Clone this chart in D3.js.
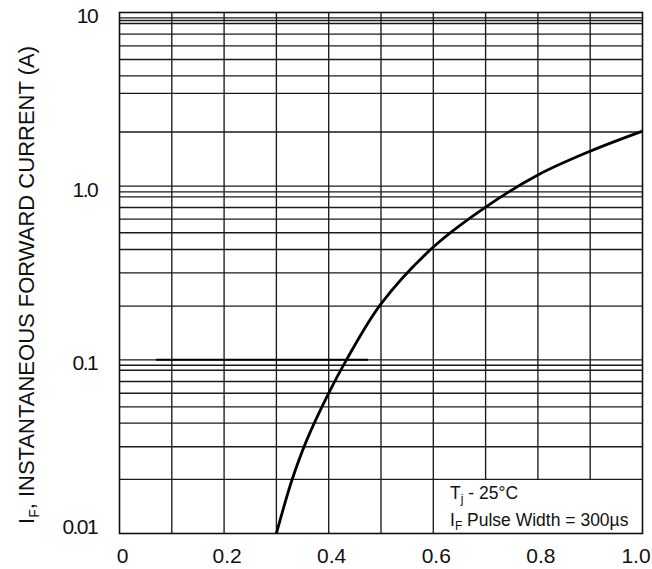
<!DOCTYPE html>
<html>
<head>
<meta charset="utf-8">
<script src="https://cdn.jsdelivr.net/npm/d3@7"></script>
<style>
  body { margin: 0; background: #fff; }
  svg text { font-family: "Liberation Sans", Arial, sans-serif; fill: #111; }
</style>
</head>
<body>
<svg id="grafico"></svg>
<script>
// valores
const vfPontos = [0.300, 0.329, 0.358, 0.400, 0.434, 0.500, 0.600, 0.700, 0.800, 0.900, 1.000];
const ifPontos = [0.0100, 0.0200, 0.0345, 0.0644, 0.100, 0.21, 0.446, 0.758, 1.16, 1.59, 2.075];

const xTicks = [0, 0.2, 0.4, 0.6, 0.8, 1.0];
const xTickLabels = ["0", "0.2", "0.4", "0.6", "0.8", "1.0"];
const xGrade = [0.1, 0.2, 0.3, 0.4, 0.5, 0.6, 0.7, 0.8, 0.9];

const yTicks = [10, 1, 0.1, 0.01];
const yTickLabels = ["10", "1.0", "0.1", "0.01"];
// linhas horizontais da grade (a grade original nao e exatamente logaritmica)
const yGrade = [9.31, 8.99, 8.64, 7.50, 6.42, 5.36, 4.32, 3.42, 2.05, 1,
                0.927, 0.868, 0.754, 0.646, 0.539, 0.432, 0.317, 0.204, 0.1,
                0.0931, 0.0871, 0.0750, 0.0642, 0.0536, 0.0432, 0.0316, 0.0205];

let width = 652, height = 569;
let svg = d3.select("#grafico")
    .attr("width", width)
    .attr("height", height)
    .attr("viewBox", "0 0 " + width + " " + height);

let x = d3.scaleLinear().domain([0, 1]).range([119.5, 642.5]);
let y = d3.scaleLog().domain([0.01, 10]).range([533.5, 12.5]);

let grade = svg.append("g").attr("stroke", "#1a1a1a").attr("stroke-width", 1.35);

// horizontais
grade.selectAll("line.h")
    .data(yGrade)
    .enter().append("line")
    .attr("class", "h")
    .attr("x1", x(0)).attr("x2", x(1))
    .attr("y1", d => y(d)).attr("y2", d => y(d));

// verticais (as de 0.7 a 0.9 param acima da caixa de texto)
grade.selectAll("line.v")
    .data(xGrade)
    .enter().append("line")
    .attr("class", "v")
    .attr("x1", d => x(d)).attr("x2", d => x(d))
    .attr("y1", y(10))
    .attr("y2", d => d > 0.65 ? y(0.0205) : y(0.01));

// trecho mais escuro sobre a linha de 0.1
grade.append("line")
    .attr("x1", x(0.07)).attr("x2", x(0.475))
    .attr("y1", y(0.1)).attr("y2", y(0.1))
    .attr("stroke", "#000").attr("stroke-width", 2);

// moldura
svg.append("rect")
    .attr("x", x(0)).attr("y", y(10))
    .attr("width", x(1) - x(0)).attr("height", y(0.01) - y(10))
    .attr("fill", "none").attr("stroke", "#111").attr("stroke-width", 1.6);

// curva
let linha = d3.line()
    .x(d => x(d[0]))
    .y(d => y(d[1]))
    .curve(d3.curveCatmullRom.alpha(0.5));

svg.append("path")
    .datum(d3.zip(vfPontos, ifPontos))
    .attr("d", linha)
    .attr("fill", "none")
    .attr("stroke", "#000")
    .attr("stroke-width", 2.8);

// rotulos do eixo x
svg.selectAll("text.xt")
    .data(xTicks)
    .enter().append("text")
    .attr("class", "xt")
    .attr("x", d => Math.min(x(d) + 3, 636))
    .attr("y", 563)
    .attr("text-anchor", "middle")
    .style("font-size", "21px")
    .text((d, i) => xTickLabels[i]);

// rotulos do eixo y
svg.selectAll("text.yt")
    .data(yTicks)
    .enter().append("text")
    .attr("class", "yt")
    .attr("x", 97)
    .attr("y", d => Math.min(y(d) + 3, 527))
    .attr("dy", "0.35em")
    .attr("text-anchor", "end")
    .style("font-size", "21px")
    .style("letter-spacing", "-1.6px")
    .text((d, i) => yTickLabels[i]);

// titulo do eixo y
let titulo = svg.append("text")
    .attr("transform", "translate(34," + 285 + ") rotate(-90)")
    .attr("text-anchor", "middle")
    .style("font-size", "22px");
titulo.append("tspan").text("I");
titulo.append("tspan").attr("dy", 5).style("font-size", "14px").text("F");
titulo.append("tspan").attr("dy", -5).text(", INSTANTANEOUS FORWARD CURRENT (A)");

// anotacao
let nota1 = svg.append("text").attr("x", 450).attr("y", 499).style("font-size", "17.5px");
nota1.append("tspan").text("T");
nota1.append("tspan").attr("dy", 4).style("font-size", "12px").text("j");
nota1.append("tspan").attr("dy", -4).text(" - 25°C");

let nota2 = svg.append("text").attr("x", 450).attr("y", 526).style("font-size", "17.5px");
nota2.append("tspan").text("I");
nota2.append("tspan").attr("dy", 4).style("font-size", "12px").text("F");
nota2.append("tspan").attr("dy", -4).text(" Pulse Width = 300µs");
</script>
</body>
</html>
